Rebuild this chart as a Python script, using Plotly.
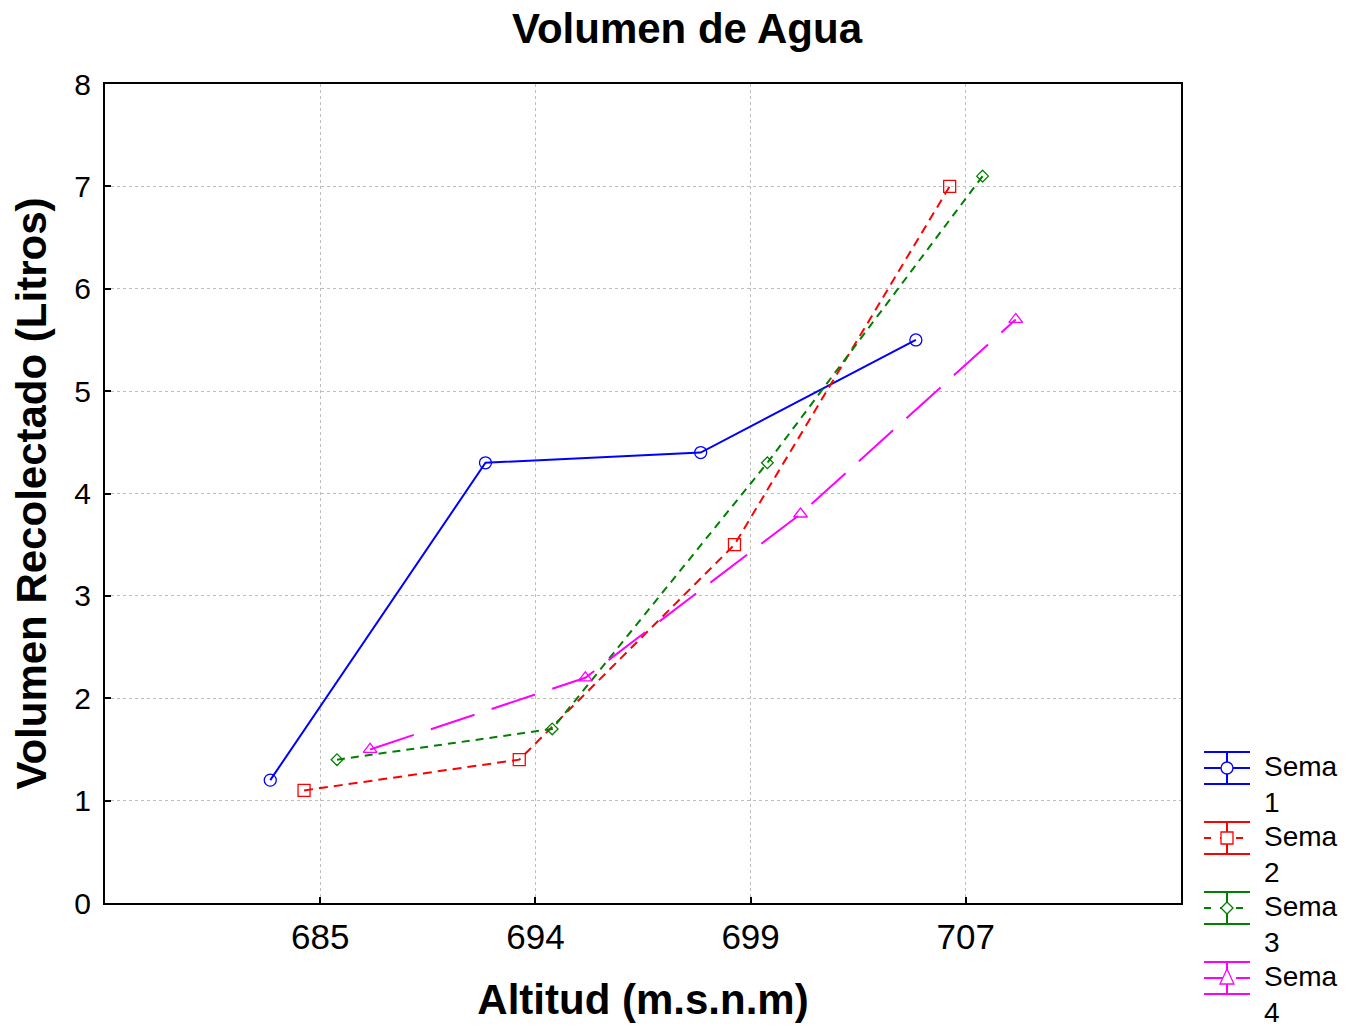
import plotly.graph_objects as go

categories = ["685", "694", "699", "707"]
series_names = ["Semana 1", "Semana 2", "Semana 3", "Semana 4"]
semana1 = [1.2, 4.3, 4.4, 5.5]
semana2 = [1.1, 1.4, 3.5, 7.0]
semana3 = [1.4, 1.7, 4.3, 7.1]
semana4 = [1.5, 2.2, 3.8, 5.7]
y_ticks = [0, 1, 2, 3, 4, 5, 6, 7, 8]

values = [semana1, semana2, semana3, semana4]
offsets = [-0.232, -0.075, 0.078, 0.232]
colors = ["#0000ff", "#ff0000", "#008000", "#ff00ff"]
dashes = ["solid", "9px,6px", "8px,6px", "46px,18px"]
symbols = ["circle-open", "square-open", "diamond-open", "triangle-up-open"]
msizes = [12, 12, 9, 12]

FONT = "Arial, Liberation Sans, sans-serif"
W, H = 1346, 1030
# plot area in page pixels
PL, PT, PR, PB = 105, 84, 1181, 903
PW, PH = PR - PL, PB - PT
# page offset of the figure (body margin)
OX, OY = 8, 8
ML, MT = PL - OX, PT - OY
MR = W - ML - PW
MB = H - MT - PH

fig = go.Figure()
for i, name in enumerate(series_names):
    xs = [k + 1 + offsets[i] for k in range(len(categories))]
    fig.add_trace(go.Scatter(
        x=xs, y=values[i], name=name, mode="lines+markers",
        line=dict(color=colors[i], width=2, dash=dashes[i]),
        marker=dict(symbol=symbols[i], size=msizes[i], color=colors[i],
                    line=dict(width=1.3, color=colors[i])),
        showlegend=False,
    ))

def px(xp):
    return (xp - PL) / PW

def py(yp):
    return (PB - yp) / PH

shapes = []
annotations = []
legend_y = [768, 838, 908, 978]
for i, name in enumerate(series_names):
    yc = legend_y[i]
    x0, x1 = 1204, 1250
    xm = (x0 + x1) / 2
    col = colors[i]
    for yy in (yc - 16, yc + 16):
        shapes.append(dict(type="line", xref="paper", yref="paper",
                           x0=px(x0), x1=px(x1), y0=py(yy), y1=py(yy),
                           line=dict(color=col, width=2)))
    shapes.append(dict(type="line", xref="paper", yref="paper",
                       x0=px(xm), x1=px(xm), y0=py(yc - 16), y1=py(yc + 16),
                       line=dict(color=col, width=2)))
    shapes.append(dict(type="line", xref="paper", yref="paper",
                       x0=px(x0), x1=px(x1), y0=py(yc), y1=py(yc),
                       line=dict(color=col, width=2,
                                 dash="solid" if i == 0 else ("7px,9px" if i < 3 else "22px,10px"))))
    s = 6
    if i == 0:
        shapes.append(dict(type="circle", xref="paper", yref="paper",
                           x0=px(xm - s), x1=px(xm + s), y0=py(yc - s), y1=py(yc + s),
                           fillcolor="white", line=dict(color=col, width=1.3)))
    elif i == 1:
        shapes.append(dict(type="rect", xref="paper", yref="paper",
                           x0=px(xm - s), x1=px(xm + s), y0=py(yc - s), y1=py(yc + s),
                           fillcolor="white", line=dict(color=col, width=1.3)))
    elif i == 2:
        d = 6
        path = (f"M {px(xm)},{py(yc - d)} L {px(xm + d)},{py(yc)} "
                f"L {px(xm)},{py(yc + d)} L {px(xm - d)},{py(yc)} Z")
        shapes.append(dict(type="path", xref="paper", yref="paper", path=path,
                           fillcolor="white", line=dict(color=col, width=1.3)))
    else:
        path = (f"M {px(xm)},{py(yc - 9)} L {px(xm + 7)},{py(yc + 6)} "
                f"L {px(xm - 7)},{py(yc + 6)} Z")
        shapes.append(dict(type="path", xref="paper", yref="paper", path=path,
                           fillcolor="white", line=dict(color=col, width=1.3)))
    word, num = name.split(" ")
    annotations.append(dict(text=f"{word}<br>{num}", xref="paper", yref="paper",
                            x=px(1262), y=py(yc - 19), xanchor="left", yanchor="top",
                            align="left", showarrow=False,
                            font=dict(family=FONT, size=28, color="black")))

annotations.append(dict(text="<b>Volumen de Agua</b>", xref="paper", yref="paper",
                        x=px(687), y=py(28), xanchor="center", yanchor="middle",
                        showarrow=False, font=dict(family=FONT, size=42, color="black")))

fig.update_layout(
    width=W, height=H,
    margin=dict(l=ML, r=MR, t=MT, b=MB, pad=0),
    paper_bgcolor="white", plot_bgcolor="white",
    font=dict(family=FONT, color="black"),
    shapes=shapes, annotations=annotations,
    showlegend=False,
    xaxis=dict(
        range=[0, 5], tickmode="array", tickvals=[1, 2, 3, 4], ticktext=categories,
        showgrid=True, gridcolor="#bdbdbd", griddash="dot", gridwidth=1,
        showline=True, linecolor="black", linewidth=2, mirror=True,
        ticks="inside", ticklen=6, tickcolor="black", tickwidth=1.5,
        tickfont=dict(family=FONT, size=35, color="black"),
        ticklabelstandoff=2,
        zeroline=False,
        title=dict(text="<b>Altitud (m.s.n.m)</b>", font=dict(family=FONT, size=42), standoff=30),
    ),
    yaxis=dict(
        range=[0, 8], tickmode="array", tickvals=y_ticks,
        showgrid=True, gridcolor="#bdbdbd", griddash="dot", gridwidth=1,
        showline=True, linecolor="black", linewidth=2, mirror=True,
        ticks="inside", ticklen=6, tickcolor="black", tickwidth=1.5,
        tickfont=dict(family=FONT, size=30, color="black"),
        ticklabelstandoff=6,
        zeroline=False,
        title=dict(text="<b>Volumen Recolectado (Litros)</b>", font=dict(family=FONT, size=42), standoff=16),
    ),
)

fig.write_html("out.html")
